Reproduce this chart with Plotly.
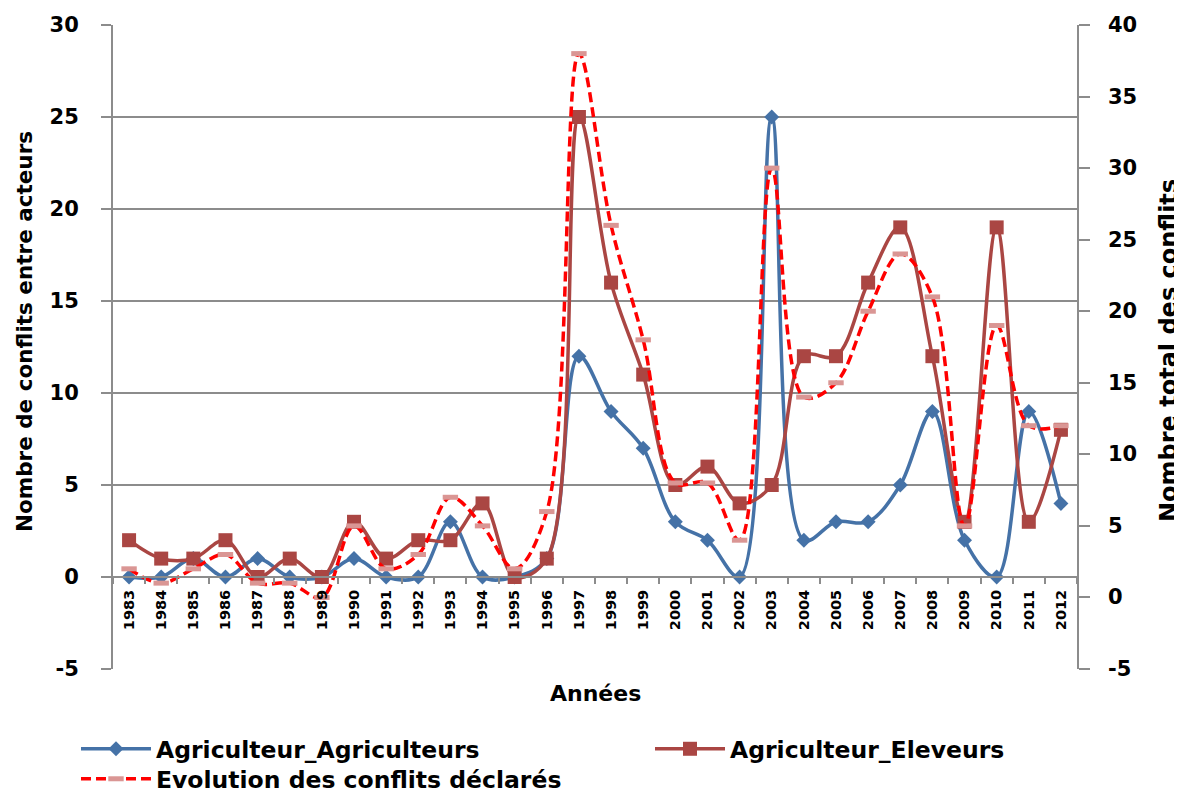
import plotly.graph_objects as go

years = [str(y) for y in range(1983, 2013)]
agri_agri = [0, 0, 1, 0, 1, 0, 0, 1, 0, 0, 3, 0, 0, 1, 12, 9, 7, 3, 2, 0, 25, 2, 3, 3, 5, 9, 2, 0, 9, 4]
agri_elev = [2, 1, 1, 2, 0, 1, 0, 3, 1, 2, 2, 4, 0, 1, 25, 16, 11, 5, 6, 4, 5, 12, 12, 16, 19, 12, 3, 19, 3, 8]
total = [2, 1, 2, 3, 1, 1, 0, 5, 2, 3, 7, 5, 2, 6, 38, 26, 18, 8, 8, 4, 30, 14, 15, 20, 24, 21, 5, 19, 12, 12]
left_ticks = [-5, 0, 5, 10, 15, 20, 25, 30]
right_ticks = [-5, 0, 5, 10, 15, 20, 25, 30, 35, 40]

# the page body adds an 8px offset; the figure is sized so that the plot lands where
# the reference's plot area is (x 113..1077, y 25..669 in the 1182x795 window)
OFF = 8
W, H = 1182 - OFF, 795 - OFF
L, T = 113 - OFF, 25 - OFF
R, B = W - (1077 - OFF), H - (669 - OFF)
PW, PH = W - L - R, H - T - B
FONT = "DejaVu Sans"
GRID = "#8c8c8c"
TICKFONT = dict(family=FONT, size=21, color="black", weight="bold")


def px_x(vx):
    return (vx - OFF - L) / PW


def px_y(vy):
    return (H - B - (vy - OFF)) / PH


fig = go.Figure()
fig.add_trace(go.Scatter(
    x=years, y=agri_agri, name="Agriculteur_Agriculteurs", mode="lines+markers",
    line=dict(color="#4572A7", width=3.5, shape="spline", smoothing=1),
    marker=dict(symbol="diamond", size=11.5, color="#4572A7"),
    legend="legend"))
fig.add_trace(go.Scatter(
    x=years, y=agri_elev, name="Agriculteur_Eleveurs", mode="lines+markers",
    line=dict(color="#AA4643", width=3.5, shape="spline", smoothing=1),
    marker=dict(symbol="square", size=14, color="#AA4643"),
    legend="legend2"))
fig.add_trace(go.Scatter(
    x=years, y=total, name="Evolution des conflits déclarés", mode="lines+markers",
    line=dict(color="#FF0000", width=3.5, shape="spline", smoothing=1, dash="10px,5px"),
    marker=dict(symbol="line-ew", size=11, line=dict(color="#DA9694", width=5)),
    yaxis="y2", legend="legend3"))

leg_common = dict(xref="paper", yref="paper", xanchor="left", yanchor="middle",
                  orientation="h",
                  font=dict(family=FONT, size=23.5, color="black", weight="bold"),
                  bgcolor="rgba(0,0,0,0)", itemwidth=70, borderwidth=0)

annotations = [
    dict(text="Années", xref="paper", yref="paper", x=px_x(595), y=px_y(693),
         xanchor="center", yanchor="middle", showarrow=False,
         font=dict(family=FONT, size=22, color="black", weight="bold")),
    dict(text="Nombre de conflits entre acteurs", xref="paper", yref="paper",
         x=px_x(24), y=px_y(332), textangle=-90,
         xanchor="center", yanchor="middle", showarrow=False,
         font=dict(family=FONT, size=21.5, color="black", weight="bold")),
    dict(text="Nombre total des conflits", xref="paper", yref="paper",
         x=px_x(1169), y=px_y(351), textangle=-90,
         xanchor="center", yanchor="middle", showarrow=False,
         font=dict(family=FONT, size=24, color="black", weight="bold")),
]
# right-hand tick labels, placed on the secondary axis scale
for v in right_ticks:
    annotations.append(dict(text=str(v), xref="paper", yref="y2", x=1, y=v,
                            xanchor="left", yanchor="middle", xshift=29,
                            showarrow=False, font=TICKFONT))

fig.update_layout(
    width=W, height=H,
    margin=dict(l=L, r=R, t=T, b=B, autoexpand=False),
    paper_bgcolor="white", plot_bgcolor="white",
    showlegend=True,
    legend=dict(x=px_x(76), y=px_y(749), **leg_common),
    legend2=dict(x=px_x(650), y=px_y(749), **leg_common),
    legend3=dict(x=px_x(76), y=px_y(779), **leg_common),
    xaxis=dict(
        type="category", range=[-0.5, 29.5], anchor="free", position=5 / 35,
        showgrid=False, showline=True, linecolor=GRID, linewidth=2,
        ticks="outside", ticklen=6, tickcolor=GRID, tickwidth=1.5, tickson="boundaries",
        tickangle=-90, tickfont=dict(family=FONT, size=14.5, color="black", weight="bold"),
        ticklabelstandoff=6,
    ),
    yaxis=dict(
        range=[-5, 30], tickmode="array", tickvals=left_ticks,
        ticktext=[str(v) for v in left_ticks],
        showgrid=True, gridcolor=GRID, gridwidth=2,
        zeroline=False, showline=True, linecolor=GRID, linewidth=2,
        ticks="outside", ticklen=10, tickcolor=GRID, tickwidth=1.5,
        tickfont=TICKFONT, ticklabelstandoff=18,
    ),
    yaxis2=dict(
        range=[-5, 40], tickmode="array", tickvals=right_ticks, showticklabels=False,
        overlaying="y", side="right", showgrid=False, zeroline=False,
        showline=True, linecolor=GRID, linewidth=2,
        ticks="outside", ticklen=11, tickcolor=GRID, tickwidth=1.5,
    ),
    annotations=annotations,
)

fig.write_html("out.html")
